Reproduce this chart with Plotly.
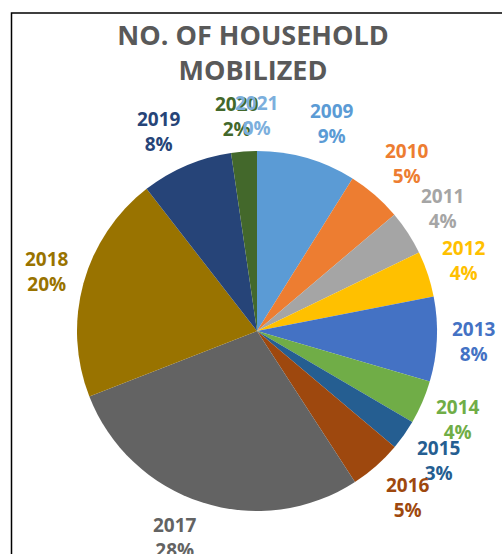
import numpy as np
import plotly.graph_objects as go

years = ["2009", "2010", "2011", "2012", "2013", "2014", "2015",
         "2016", "2017", "2018", "2019", "2020", "2021"]
households = [8.9, 4.9, 4.0, 4.1, 7.6, 3.9, 2.7, 4.7, 28.2, 20.4, 8.2, 2.3, 0.0]
colors = ["#5B9BD5", "#ED7D31", "#A5A5A5", "#FFC000", "#4472C4", "#70AD47",
          "#255E91", "#9E480E", "#636363", "#997300", "#264478", "#43682B",
          "#7CAFDD"]
title_text = "NO. OF HOUSEHOLD<br>MOBILIZED"

W, H = 502, 554
CX, CY, R = 257, 331, 180      # pie centre and radius in pixels
GAP = 15                       # outside-end label gap
HW, KX = 22, 3.5               # horizontal box offset
HH, KY = 20.5, 1.4             # vertical box offset

fig = go.Figure()
fig.add_trace(go.Pie(
    labels=years, values=households, sort=False, direction="clockwise",
    rotation=0, marker=dict(colors=colors, line=dict(width=0)),
    textinfo="none", hoverinfo="label+percent", showlegend=False,
    domain=dict(x=[(CX - R) / W, (CX + R) / W],
                y=[(H - CY - R) / H, (H - CY + R) / H]),
))

vals = np.array(households, dtype=float)
total = vals.sum()
cum = np.cumsum(vals) - vals / 2
annotations = []
for yr, v, c, mid in zip(years, vals, colors, cum):
    theta = 2 * np.pi * mid / total
    s, co = np.sin(theta), np.cos(theta)
    px = CX + (R + GAP) * s + HW * np.clip(KX * s, -1, 1)
    py = (H - CY) + (R + GAP) * co + HH * np.clip(KY * co, -1, 1)
    annotations.append(dict(
        x=px / W, y=py / H, xref="paper", yref="paper",
        text=f"<b>{yr}<br>{round(100 * v / total):.0f}%</b>",
        showarrow=False, xanchor="center", yanchor="middle",
        font=dict(family="Open Sans", size=19, color=c), align="center",
    ))

fig.update_layout(
    width=W, height=H, margin=dict(l=0, r=0, t=0, b=0),
    paper_bgcolor="white", plot_bgcolor="white",
    title=dict(text=f"<b>{title_text}</b>", x=253 / W, xanchor="center",
               y=1 - 45 / H, yanchor="middle",
               font=dict(family="Open Sans", size=27, color="#595959")),
    annotations=annotations,
    shapes=[dict(type="rect", xref="paper", yref="paper",
                 x0=11.5 / W, x1=1.05, y0=-0.05, y1=1 - 13 / H,
                 line=dict(color="black", width=1.5), layer="below")],
)

fig.write_html("out.html")
